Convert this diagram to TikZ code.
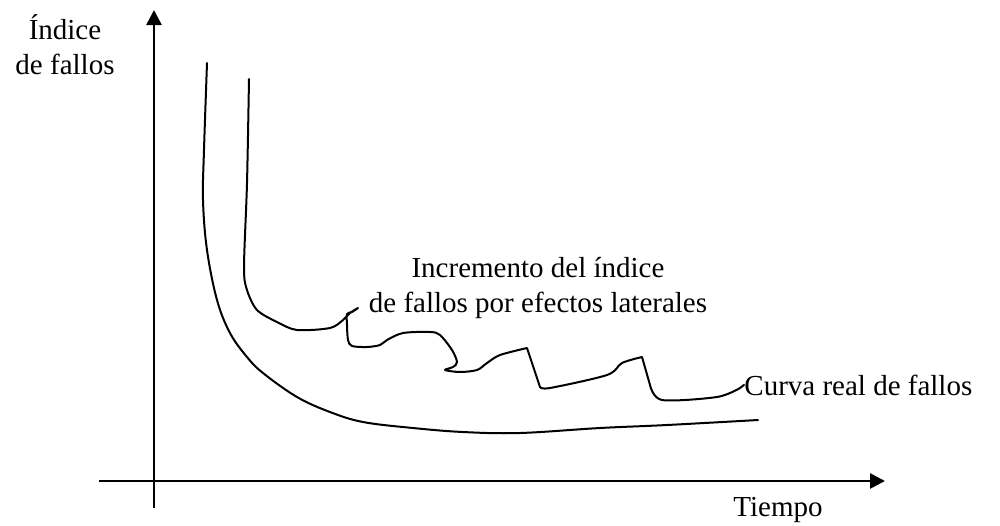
\documentclass[tikz,border=0pt]{standalone}
\usepackage{fontspec}
\setmainfont{Liberation Serif}
\usetikzlibrary{arrows.meta}
\begin{document}
\begin{tikzpicture}[x=0.5pt, y=-0.5pt,
    axis/.style={line width=1.3pt, -{Triangle[length=7.5pt, width=7.5pt]}},
    curve/.style={line width=1pt, line join=round, line cap=round},
    lbl/.style={inner sep=0pt, font=\fontsize{14.5}{17.5}\selectfont}]
    \useasboundingbox (0,0) rectangle (1000,525);
    \coordinate (ybot) at (154,508);
    \coordinate (ytop) at (154,10);
    \coordinate (xleft) at (99,481);
    \coordinate (xright) at (885,481);
    \draw [axis] (ybot) -- (ytop);
    \draw [axis] (xleft) -- (xright);
    \node [lbl, anchor=base, align=center] (ylabel) at (65,74) {Índice\\de fallos};
    \node [lbl, anchor=base] (xlabel) at (778,516) {Tiempo};
    \node [lbl, anchor=base, align=center] (sidefx) at (538,312) {Incremento del índice\\de fallos por efectos laterales};
    \node [lbl, anchor=base west] (real) at (744,395) {Curva real de fallos};
    \draw [curve] plot [smooth, tension=0.6] coordinates {(207,63) (204,150) (203,200) (207,250) (217,300) (230,333) (247,357) (263,373) (297,397) (330,412) (363,422) (413,428) (463,432) (520,433) (600,428) (667,425) (758,420)};
    \draw [curve] plot [smooth, tension=0.5] coordinates {(249,79) (247,183) (244,267) (247,290) (257,310) (277,322) (297,330) (330,328) (343,320) (350,313) (358,308) (352,312) (347,314) (347,325) (348,340) (352,346) (367,347) (380,345) (387,340) (403,333) (430,332) (440,335) (452,350) (457,362) (453,367) (445,370) (460,372) (477,370) (487,363) (500,355) (527,348)}
        -- plot [smooth, tension=0.5] coordinates {(540,387) (550,388) (607,375) (622,363) (642,357)}
        -- plot [smooth, tension=0.5] coordinates {(650,385) (662,400) (717,397) (740,388)} -- (real.west);
\end{tikzpicture}
\end{document}
